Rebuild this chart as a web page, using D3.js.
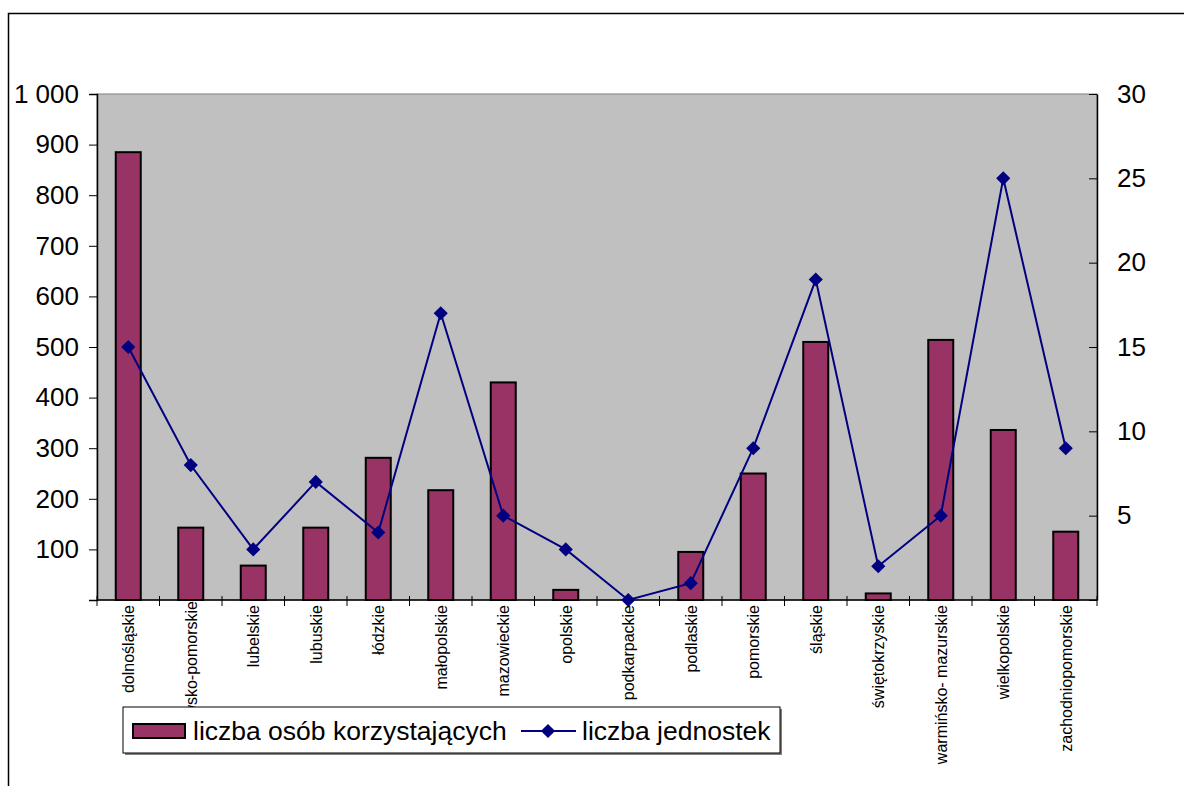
<!DOCTYPE html>
<html><head><meta charset="utf-8">
<script src="https://cdn.jsdelivr.net/npm/d3@7"></script>
<style>body{margin:0;background:#fff}svg{display:block}</style>
</head><body>
<svg id="c" width="1184" height="786"></svg>
<script>
const categories = ["dolnośląskie","kujawsko-pomorskie","lubelskie","lubuskie","łódzkie","małopolskie","mazowieckie","opolskie","podkarpackie","podlaskie","pomorskie","śląskie","świętokrzyskie","warmińsko- mazurskie","wielkopolskie","zachodniopomorskie"];
const persons = [885,143,68,143,281,217,430,20,0,95,250,510,13,514,336,135];
const units = [15,8,3,7,4,17,5,3,0,1,9,19,2,5,25,9];
const leftTicks = [0,100,200,300,400,500,600,700,800,900,1000];
const rightTicks = [0,5,10,15,20,25,30];
const seriesNames = ["liczba osób korzystających","liczba jednostek"];

const svg = d3.select("#c");
const font = "Arial, 'Liberation Sans', sans-serif";
const L = 97, R = 1097, T = 94, B = 600;

// outer frame
svg.append("path").attr("d", `M8.5,786 V13.5 H1184`).attr("fill","none").attr("stroke","#000").attr("stroke-width",1.5);

const x = d3.scaleBand().domain(categories).range([L,R]).padding(0);
const yL = d3.scaleLinear().domain([0,1000]).range([B,T]);
const yR = d3.scaleLinear().domain([0,30]).range([B,T]);
const cx = c => x(c) + x.bandwidth()/2;

// plot area
svg.append("rect").attr("x",L).attr("y",T).attr("width",R-L).attr("height",B-T)
  .attr("fill","#c0c0c0").attr("stroke","#808080").attr("stroke-width",1);

// bars
const bw = x.bandwidth()/2.5;
svg.append("g").selectAll("rect").data(categories.map((c,i)=>({c, v: persons[i]})).filter(d=>d.v>0)).join("rect")
  .attr("x",d=>cx(d.c) - bw/2)
  .attr("y",d=>yL(d.v)).attr("width",bw).attr("height",d=>B-yL(d.v))
  .attr("fill","#993366").attr("stroke","#000").attr("stroke-width",2);

// left axis
const gl = svg.append("g").attr("transform",`translate(${L},0)`)
  .call(d3.axisLeft(yL).tickValues(leftTicks).tickSize(8).tickPadding(10)
    .tickFormat(d => d === 0 ? "" : d3.format(",")(d).replace(/,/g," ")));
gl.select(".domain").attr("stroke","#000").attr("stroke-width",1.5);
gl.selectAll("text").attr("font-family",font).attr("font-size",26).attr("fill","#000");

// right axis
const gr = svg.append("g").attr("transform",`translate(${R},0)`)
  .call(d3.axisRight(yR).tickValues(rightTicks).tickSize(0).tickPadding(20)
    .tickFormat(d => d === 0 ? "" : d));
gr.select(".domain").attr("stroke","#000").attr("stroke-width",1.5);
gr.selectAll("text").attr("font-family",font).attr("font-size",26).attr("fill","#000");
gr.selectAll(".tick").append("line").attr("x1",-8).attr("x2",0).attr("stroke","#000");

// bottom axis
const gb = svg.append("g").attr("transform",`translate(0,${B})`);
gb.append("line").attr("x1",L).attr("x2",R).attr("stroke","#000").attr("stroke-width",1.5);
gb.selectAll("line.t").data(d3.range(categories.length+1)).join("line").attr("class","t")
  .attr("x1",i=>L + i*x.step()).attr("x2",i=>L + i*x.step())
  .attr("y1",-4).attr("y2",6).attr("stroke","#000");

// line series
svg.append("path").datum(units)
  .attr("d", d3.line().x((d,i)=>cx(categories[i])).y(d=>yR(d)))
  .attr("fill","none").attr("stroke","#000080").attr("stroke-width",2);
svg.append("g").selectAll("path").data(units).join("path")
  .attr("d", d3.symbol(d3.symbolSquare, 100))
  .attr("transform",(d,i)=>`translate(${cx(categories[i])},${yR(d)}) rotate(45)`)
  .attr("fill","#000080");

// category labels
svg.append("g").selectAll("text").data(categories).join("text")
  .attr("transform", (c,i) => `translate(${cx(c)+6},${i===1 ? B+1 : B+5}) rotate(-90)`)
  .attr("text-anchor","end").attr("font-family",font).attr("font-size",16).attr("fill","#000")
  .text(c=>c);

// legend
const lg = svg.append("g");
lg.append("rect").attr("x",125).attr("y",709).attr("width",657).attr("height",46).attr("fill","#808080");
lg.append("rect").attr("x",123).attr("y",707).attr("width",657).attr("height",46).attr("fill","#fff").attr("stroke","#000").attr("stroke-width",1);
lg.append("rect").attr("x",133).attr("y",724).attr("width",52).attr("height",14)
  .attr("fill","#993366").attr("stroke","#000").attr("stroke-width",2);
lg.append("text").attr("x",193).attr("y",740).attr("font-family",font).attr("font-size",26.5).text(seriesNames[0]);
lg.append("line").attr("x1",521).attr("x2",576).attr("y1",731).attr("y2",731).attr("stroke","#000080").attr("stroke-width",2);
lg.append("path").attr("d", d3.symbol(d3.symbolSquare, 100)).attr("transform","translate(548,731) rotate(45)").attr("fill","#000080");
lg.append("text").attr("x",582).attr("y",740).attr("font-family",font).attr("font-size",26.5).text(seriesNames[1]);
</script>
</body></html>
